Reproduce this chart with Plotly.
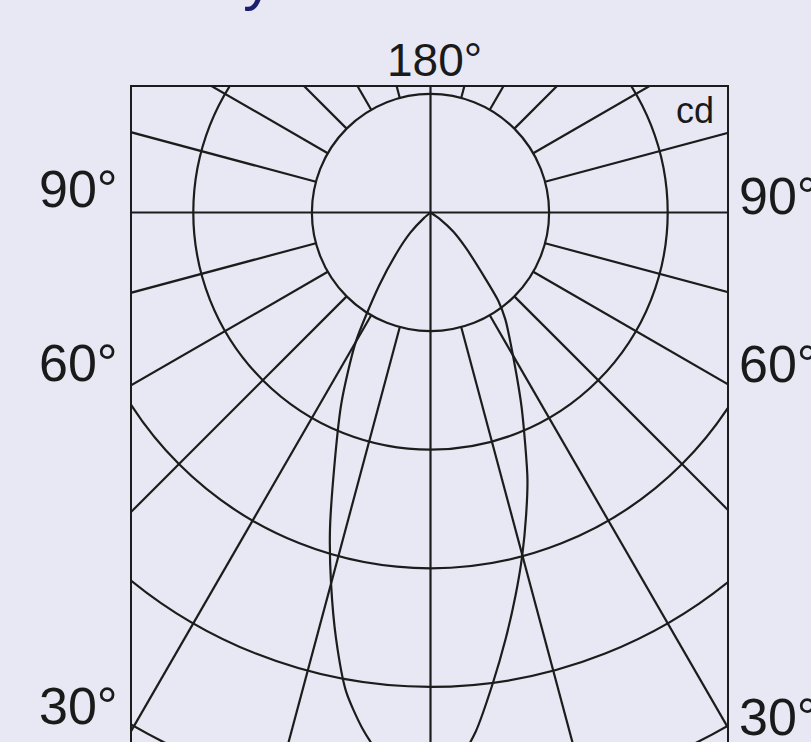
import numpy as np
import plotly.graph_objects as go

# ---------------- data ----------------
# luminous intensity (cd) vs. angle from nadir (deg), two half-planes
angles_left = [0, 2.5, 5, 7.5, 10, 12.5, 15, 17.5, 20, 25, 30, 35, 40, 45, 50, 55]
cd_left = [481, 474, 462, 439, 410, 368, 324, 282, 240, 178, 126, 76, 44, 24, 7, 0]
angles_right = [0, 2.5, 5, 7.5, 10, 12.5, 15, 17.5, 20, 25, 30, 35, 37.5, 40, 45, 50, 55, 60]
cd_right = [481, 468, 439, 401, 365, 331, 299, 268, 239, 182, 139, 110, 94, 70, 42, 25, 10, 0]

ring_values = [100, 200, 300, 400, 500]           # cd grid circles
radial_angles = [15, 30, 45, 60, 75, 105, 120, 135, 150, 165]
full_axis_angles = [0, 90]                         # lines through the centre
side_labels = ["90°", "60°", "30°"]
top_label = "180°"
unit_label = "cd"
title_text = "Luminous Intensity"

# ---------------- geometry helpers ----------------
W, H = 811, 742
X0, Y0 = 430.5, 212.5        # pixel of the diagram centre
S = 1.186                    # pixels per cd
PL, PR, PT, PB = 132, 727, 87, 742   # plot-area box in pixels

def px2x(px):
    return (px - X0) / S

def px2y(py):
    return (Y0 - py) / S

def paper_x(px):
    return (px - PL) / (PR - PL)

def paper_y(py):
    return (PB - py) / (PB - PT)

LINE = "#1c1c1c"
BG = "#e8e8f4"
FONT = "Liberation Sans, Arial, sans-serif"
LW = 2.2

fig = go.Figure()

# radial grid lines (outside the inner circle)
rx, ry = [], []
r_in = ring_values[0]
r_out = 2000
for a in radial_angles:
    for sgn in (-1, 1):
        t = np.radians(a)
        rx += [sgn * r_in * np.sin(t), sgn * r_out * np.sin(t), None]
        ry += [-r_in * np.cos(t), -r_out * np.cos(t), None]
for a in full_axis_angles:
    t = np.radians(a)
    rx += [-r_out * np.sin(t), r_out * np.sin(t), None]
    ry += [-r_out * np.cos(t), r_out * np.cos(t), None]
fig.add_trace(go.Scatter(x=rx, y=ry, mode="lines",
                         line=dict(color=LINE, width=LW),
                         hoverinfo="skip", showlegend=False))

# intensity curve
tl = np.radians(angles_left)
fig.add_trace(go.Scatter(x=-np.array(cd_left) * np.sin(tl),
                         y=-np.array(cd_left) * np.cos(tl),
                         mode="lines", line=dict(color=LINE, width=LW, shape="spline", smoothing=0.7),
                         hoverinfo="skip", showlegend=False))
tr = np.radians(angles_right)
fig.add_trace(go.Scatter(x=np.array(cd_right) * np.sin(tr),
                         y=-np.array(cd_right) * np.cos(tr),
                         mode="lines", line=dict(color=LINE, width=LW, shape="spline", smoothing=0.7),
                         hoverinfo="skip", showlegend=False))

# grid circles
for r in ring_values:
    fig.add_shape(type="circle", xref="x", yref="y", x0=-r, y0=-r, x1=r, y1=r,
                  line=dict(color=LINE, width=LW), layer="above")

annotations = []
# angle labels
left_centres = [189, 363, 706]
right_centres = [196, 364, 717]
for lab, cy in zip(side_labels, left_centres):
    annotations.append(dict(text=lab, xref="paper", yref="paper",
                            x=paper_x(120), y=paper_y(cy), xanchor="right", yanchor="middle",
                            showarrow=False, font=dict(size=52, color="#1a1a1a", family=FONT)))
for lab, cy in zip(side_labels, right_centres):
    annotations.append(dict(text=lab, xref="paper", yref="paper",
                            x=paper_x(737), y=paper_y(cy), xanchor="left", yanchor="middle",
                            showarrow=False, font=dict(size=52, color="#1a1a1a", family=FONT)))
annotations.append(dict(text=top_label, xref="paper", yref="paper",
                        x=paper_x(434), y=paper_y(60), xanchor="center", yanchor="middle",
                        showarrow=False, font=dict(size=46, color="#1a1a1a", family=FONT)))
annotations.append(dict(text=unit_label, xref="paper", yref="paper",
                        x=paper_x(716), y=paper_y(110), xanchor="right", yanchor="middle",
                        showarrow=False, font=dict(size=36, color="#1a1a1a", family=FONT)))
annotations.append(dict(text=title_text, xref="paper", yref="paper",
                        x=paper_x(276), y=paper_y(-24), xanchor="right", yanchor="middle",
                        showarrow=False, font=dict(size=62, color="#1c1f6b", family=FONT)))

fig.update_layout(
    width=W, height=H,
    margin=dict(l=PL, r=W - PR, t=PT, b=H - PB, pad=0),
    paper_bgcolor=BG, plot_bgcolor=BG,
    showlegend=False, hovermode=False,
    annotations=annotations,
    xaxis=dict(range=[px2x(PL), px2x(PR)], showgrid=False, zeroline=False,
               showticklabels=False, ticks="", side="top",
               showline=True, mirror=False, linecolor=LINE, linewidth=LW, fixedrange=True),
    yaxis=dict(range=[px2y(PB), px2y(PT)], showgrid=False, zeroline=False,
               showticklabels=False, ticks="",
               showline=True, mirror=True, linecolor=LINE, linewidth=LW, fixedrange=True),
)

fig.write_html("out.html", config={"displayModeBar": False},
               post_script="document.body.style.margin='0px';document.body.style.overflow='hidden';"
                           "document.body.style.background='" + BG + "';")
